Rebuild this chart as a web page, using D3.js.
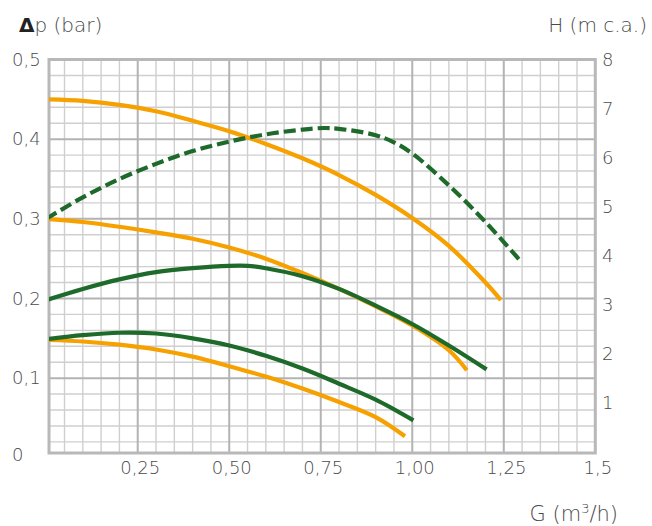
<!DOCTYPE html>
<html><head><meta charset="utf-8">
<script src="https://cdn.jsdelivr.net/npm/d3@7"></script>
<style>
html,body{margin:0;padding:0;background:#fff;}
svg text{font-family:"DejaVu Sans ExtraLight","DejaVu Sans",sans-serif;font-weight:200;fill:#4a4a4a;}
</style></head>
<body><svg id="c" width="652" height="526"></svg>
<script>
// ---- data ----
const xTicks = [0.25, 0.5, 0.75, 1.0, 1.25, 1.5];
const xTickLabels = ["0,25", "0,50", "0,75", "1,00", "1,25", "1,5"];
const yTicks = [0, 0.1, 0.2, 0.3, 0.4, 0.5];
const yTickLabels = ["0", "0,1", "0,2", "0,3", "0,4", "0,5"];
const hTicks = [1, 2, 3, 4, 5, 6, 7, 8];

// orange curves (Δp, bar vs G, m3/h)
const orangeA_G  = [0, 0.1, 0.2, 0.3, 0.4, 0.5, 0.6, 0.7, 0.8, 0.9, 1.0, 1.1, 1.2, 1.242];
const orangeA_dp = [0.450, 0.448, 0.443, 0.435, 0.423, 0.410, 0.394, 0.376, 0.355, 0.330, 0.301, 0.266, 0.220, 0.198];
const orangeB_G  = [0, 0.1, 0.2, 0.3, 0.4, 0.5, 0.6, 0.7, 0.8, 0.9, 1.0, 1.1, 1.149];
const orangeB_dp = [0.300, 0.296, 0.290, 0.283, 0.275, 0.264, 0.250, 0.232, 0.212, 0.190, 0.166, 0.135, 0.110];
const orangeC_G  = [0, 0.1, 0.2, 0.3, 0.4, 0.5, 0.6, 0.7, 0.8, 0.9, 0.98];
const orangeC_dp = [0.148, 0.146, 0.142, 0.136, 0.127, 0.115, 0.102, 0.087, 0.070, 0.051, 0.027];
// green curves
const greenDash_G  = [0, 0.1, 0.2, 0.3, 0.4, 0.5, 0.6, 0.7, 0.76, 0.8, 0.9, 0.95, 1.0, 1.1, 1.2, 1.294];
const greenDash_dp = [0.300, 0.327, 0.350, 0.369, 0.385, 0.397, 0.406, 0.412, 0.414, 0.413, 0.405, 0.396, 0.382, 0.342, 0.296, 0.248];
const greenB_G  = [0, 0.1, 0.2, 0.3, 0.4, 0.5, 0.55, 0.6, 0.7, 0.8, 0.9, 1.0, 1.1, 1.203];
const greenB_dp = [0.198, 0.212, 0.224, 0.233, 0.238, 0.241, 0.241, 0.238, 0.228, 0.212, 0.191, 0.168, 0.141, 0.111];
const greenC_G  = [0, 0.1, 0.2, 0.3, 0.4, 0.5, 0.6, 0.7, 0.8, 0.9, 1.003];
const greenC_dp = [0.149, 0.154, 0.157, 0.156, 0.150, 0.141, 0.128, 0.112, 0.093, 0.073, 0.047];

const ORANGE = "#f7a100", GREEN = "#1e6a2b";

// ---- scales ----
const x = d3.scaleLinear().domain([0, 1.5]).range([46.2, 595.3]);
const y = d3.scaleLinear().domain([0, 0.5]).range([457.8, 59.5]);
const yH = d3.scaleLinear().domain([0, 8]).range([452, 60]);
const frame = {x0: 49, x1: 595.3, y0: 59.5, y1: 453};

const svg = d3.select("#c");
svg.append("defs").append("clipPath").attr("id", "clip")
  .append("rect").attr("x", frame.x0).attr("y", frame.y0)
  .attr("width", frame.x1 - frame.x0).attr("height", frame.y1 - frame.y0);

// grid
const g = svg.append("g");
const vMinor = d3.range(1, 30).map(i => i * 0.05).filter(v => Math.abs(v / 0.25 - Math.round(v / 0.25)) > 1e-6);
const hMinor = d3.range(1, 25).map(i => i * 0.02).filter(v => Math.abs(v / 0.1 - Math.round(v / 0.1)) > 1e-6);
g.selectAll(".vm").data(vMinor).join("line")
  .attr("x1", d => x(d)).attr("x2", d => x(d)).attr("y1", frame.y0).attr("y2", frame.y1)
  .attr("stroke", "#cfcfcf").attr("stroke-width", 1.4);
g.selectAll(".hm").data(hMinor).join("line")
  .attr("y1", d => y(d)).attr("y2", d => y(d)).attr("x1", frame.x0).attr("x2", frame.x1)
  .attr("stroke", "#cfcfcf").attr("stroke-width", 1.4);
g.selectAll(".vM").data(xTicks.slice(0, 5)).join("line")
  .attr("x1", d => x(d)).attr("x2", d => x(d)).attr("y1", frame.y0).attr("y2", frame.y1)
  .attr("stroke", "#b3b3b3").attr("stroke-width", 2);
g.selectAll(".hM").data(yTicks.slice(1, 5)).join("line")
  .attr("y1", d => y(d)).attr("y2", d => y(d)).attr("x1", frame.x0).attr("x2", frame.x1)
  .attr("stroke", "#b3b3b3").attr("stroke-width", 2);
svg.append("rect").attr("x", frame.x0).attr("y", frame.y0)
  .attr("width", frame.x1 - frame.x0).attr("height", frame.y1 - frame.y0)
  .attr("fill", "none").attr("stroke", "#b8b8b8").attr("stroke-width", 3);

// axes (labels only)
const FF = '"DejaVu Sans ExtraLight","DejaVu Sans",sans-serif';
const ax = svg.append("g").attr("transform", `translate(0,${frame.y1})`)
  .call(d3.axisBottom(x).tickValues(xTicks).tickSize(0).tickPadding(10)
    .tickFormat((d, i) => xTickLabels[i]));
ax.select(".domain").remove();
ax.selectAll("text").attr("font-size", 18).attr("dx", 2).attr("dy", "0.6em")
  .style("font-family", FF).style("font-weight", 200).attr("fill", "#4a4a4a");

const ay = svg.append("g").attr("transform", "translate(12,0)")
  .call(d3.axisLeft(y).tickValues(yTicks).tickSize(0)
    .tickFormat((d, i) => yTickLabels[i]));
ay.select(".domain").remove();
ay.selectAll("text").attr("font-size", 18).attr("x", 0).attr("text-anchor", "start")
  .attr("transform", d => d === 0 ? "translate(0,-3)" : null)
  .style("font-family", FF).style("font-weight", 200).attr("fill", "#4a4a4a");

const ar = svg.append("g").attr("transform", "translate(602,0)")
  .call(d3.axisRight(yH).tickValues(hTicks).tickSize(0).tickFormat(d3.format("d")));
ar.select(".domain").remove();
ar.selectAll("text").attr("font-size", 18).attr("x", 0)
  .style("font-family", FF).style("font-weight", 200).attr("fill", "#4a4a4a");

// titles
svg.append("text").attr("x", 19).attr("y", 32).attr("font-size", 20)
  .html('<tspan style="font-family:DejaVu Sans;font-weight:bold;fill:#222">Δ</tspan>p (bar)');
svg.append("text").attr("x", 647).attr("y", 32).attr("font-size", 20).attr("text-anchor", "end")
  .text("H (m c.a.)");
svg.append("text").attr("x", 618).attr("y", 521).attr("font-size", 21).attr("text-anchor", "end")
  .html('G (m<tspan dy="-8" font-size="13">3</tspan><tspan dy="8">/h)</tspan>');

// curves
const line = d3.line().x(d => x(d[0])).y(d => y(d[1])).curve(d3.curveCatmullRom.alpha(0.5));
const curves = svg.append("g").attr("clip-path", "url(#clip)");
function draw(G, dp, color, dash) {
  curves.append("path").datum(d3.zip(G, dp)).attr("d", line)
    .attr("fill", "none").attr("stroke", color).attr("stroke-width", 4.2)
    .attr("stroke-linecap", "butt")
    .attr("stroke-dasharray", dash || null);
}
draw(orangeA_G, orangeA_dp, ORANGE);
draw(orangeB_G, orangeB_dp, ORANGE);
draw(orangeC_G, orangeC_dp, ORANGE);
draw(greenB_G, greenB_dp, GREEN);
draw(greenC_G, greenC_dp, GREEN);
draw(greenDash_G, greenDash_dp, GREEN, "12,5");
</script></body></html>
